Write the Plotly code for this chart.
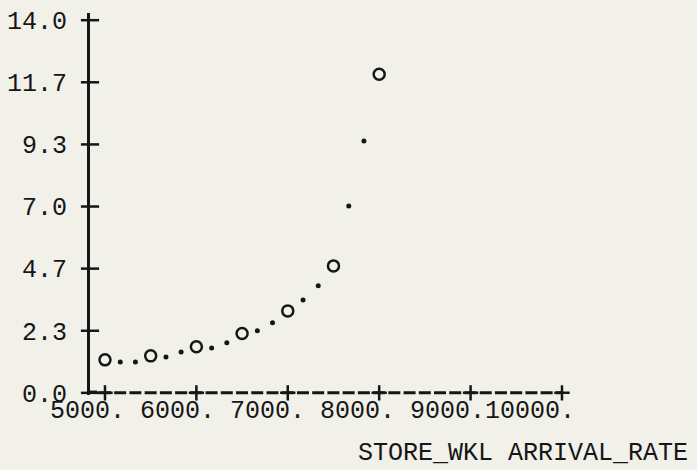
import plotly.graph_objects as go

# ---- data ----
circle_x = [5000, 5500, 6000, 6500, 7000, 7500, 8000]
circle_y = [1.24, 1.39, 1.73, 2.23, 3.08, 4.77, 11.97]

dot_x = [5167, 5333, 5667, 5833, 6167, 6333, 6667, 6833, 7167, 7333, 7667, 7833]
dot_y = [1.16, 1.16, 1.35, 1.54, 1.69, 1.88, 2.33, 2.63, 3.49, 4.02, 7.02, 9.46]

x_ticks = [5000, 6000, 7000, 8000, 9000, 10000]
x_labels = ["5000.", "6000.", "7000.", "8000.", "9000.", "10000."]
y_ticks = [0.0, 2.333, 4.667, 7.0, 9.333, 11.667, 14.0]
y_labels = ["0.0", "2.3", "4.7", "7.0", "9.3", "11.7", "14.0"]
x_title = "STORE_WKL ARRIVAL_RATE"

X_MIN, X_MAX = 4836, 10416
Y_MIN, Y_MAX = -0.08, 14.27

FONT = "Liberation Mono, DejaVu Sans Mono, monospace"
INK = "#161616"
BG = "#f1f0e9"

fig = go.Figure()

# dashed x axis (line-printer style)
fig.add_trace(go.Scatter(
    x=[4934, x_ticks[-1]], y=[0, 0], mode="lines",
    line=dict(color=INK, width=3, dash="12px,3.23px"),
    hoverinfo="skip", showlegend=False, cliponaxis=False))
# small stub at origin
fig.add_trace(go.Scatter(
    x=[4782, 4914], y=[0.03, 0.03], mode="lines",
    line=dict(color=INK, width=3),
    hoverinfo="skip", showlegend=False, cliponaxis=False))

# "+" ticks on x axis
fig.add_trace(go.Scatter(
    x=x_ticks, y=[0] * len(x_ticks), mode="markers",
    marker=dict(symbol="cross-thin", size=11, line=dict(color=INK, width=2.5)),
    hoverinfo="skip", showlegend=False, cliponaxis=False))

# "+" ticks on y axis (horizontal bars crossing the axis line)
fig.add_trace(go.Scatter(
    x=[X_MIN] * len(y_ticks), y=y_ticks, mode="markers",
    marker=dict(symbol="line-ew", size=13, line=dict(color=INK, width=2.5)),
    hoverinfo="skip", showlegend=False, cliponaxis=False))

# dots
fig.add_trace(go.Scatter(
    x=dot_x, y=dot_y, mode="markers",
    marker=dict(symbol="circle", size=5, color=INK),
    showlegend=False, cliponaxis=False))

# circles
fig.add_trace(go.Scatter(
    x=circle_x, y=circle_y, mode="markers",
    marker=dict(symbol="circle-open", size=11, color=INK, line=dict(color=INK, width=2.5)),
    showlegend=False, cliponaxis=False))

# x tick labels as one fixed-width printer line (F6.0 style fields)
label_line = "".join(lbl.rjust(6, "\u00a0") for lbl in x_labels)
fig.add_annotation(
    x=x_ticks[0], y=0, xref="x", yref="y",
    text=label_line, showarrow=False,
    xanchor="left", yanchor="middle", xshift=-72, yshift=-19,
    font=dict(family=FONT, size=25, color=INK))

# axis title
fig.add_annotation(
    x=x_ticks[0], y=0, xref="x", yref="y",
    text=x_title, showarrow=False,
    xanchor="left", yanchor="middle", xshift=251, yshift=-61,
    font=dict(family=FONT, size=25, color=INK))

fig.update_layout(
    width=697, height=470,
    margin=dict(l=90, r=97, t=13, b=75, autoexpand=False),
    paper_bgcolor=BG, plot_bgcolor=BG,
    showlegend=False,
    xaxis=dict(range=[X_MIN, X_MAX], showgrid=False, zeroline=False,
               showline=False, showticklabels=False, ticks="",
               automargin=False),
    yaxis=dict(range=[Y_MIN, Y_MAX], showgrid=False, zeroline=False,
               showline=True, linewidth=3, linecolor=INK,
               tickvals=y_ticks, ticktext=y_labels, ticks="",
               ticklabelstandoff=15, automargin=False,
               tickfont=dict(family=FONT, size=25, color=INK)),
)

fig.write_html(
    "out.html",
    config={"displayModeBar": False},
    post_script="document.body.style.margin='0';"
                "document.body.style.background='" + BG + "';"
                "document.body.style.overflow='hidden';",
)
